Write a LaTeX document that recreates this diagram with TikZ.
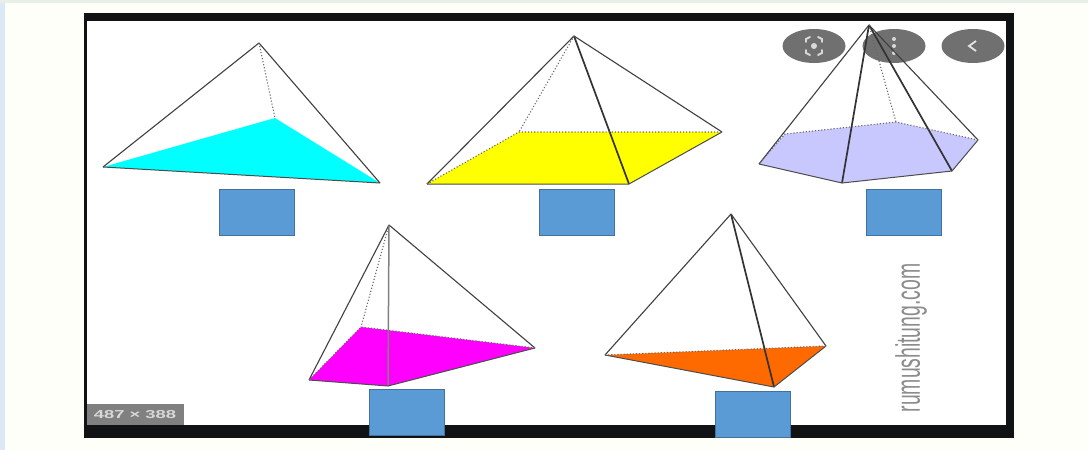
\documentclass[tikz,border=0pt]{standalone}
\usepackage{fontspec}
\usetikzlibrary{shapes.geometric}
\setmainfont{Liberation Sans}
\definecolor{pagebg}{HTML}{FDFFF8}
\definecolor{edgeblue}{HTML}{DCE8F5}
\definecolor{edgegreen}{HTML}{E6F0E6}
\definecolor{boxblue}{HTML}{5B9BD5}
\definecolor{boxline}{HTML}{41719C}
\definecolor{btngray}{HTML}{707070}
\definecolor{lilac}{HTML}{C8C8FF}
\definecolor{deeporange}{HTML}{FF6A00}
\definecolor{framedark}{HTML}{111214}
\definecolor{basecyan}{HTML}{00FFFF}
\definecolor{baseyellow}{HTML}{FFFF00}
\definecolor{basemagenta}{HTML}{FF00FF}
\begin{document}
\begin{tikzpicture}[x=1pt,y=-1pt,
    edgeline/.style={line width=1.1pt, black!75},
    frontline/.style={line width=1.7pt, black!80},
    hiddenline/.style={line width=1.1pt, black!60, dotted},
    basefill/.style={line width=1pt, black!70},
    answerbox/.style={draw=boxline, fill=boxblue, line width=0.8pt, minimum width=75pt, minimum height=46pt, inner sep=0pt, outer sep=0pt},
    imgbutton/.style={ellipse, fill=btngray, minimum width=63pt, minimum height=34pt, inner sep=0pt}]
\useasboundingbox (0,0) rectangle (1088,450);

% Page and image frame
\fill[pagebg] (0,0) rectangle (1088,450);
\fill[edgeblue] (0,0) rectangle (5,450);
\fill[edgegreen] (0,0) rectangle (1088,3);
\fill[framedark] (84,13) rectangle (1014,438);
\fill[white] (87,21) rectangle (1006,425);

% Buttons
\node[imgbutton] (btnlens) at (814,46) {};
\node[imgbutton] (btnmenu) at (894,46) {};
\node[imgbutton] (btnback) at (973,46) {};
\fill[white!85!black] (814,46) circle (3);
\fill[white!85!black] (894,39) circle (2) (894,46) circle (2) (894,53) circle (2);
\draw[white!90!black, line width=1.8pt] (976,41) -- (969,46) -- (976,51);
\draw[white!85!black, line width=1.8pt, line cap=round] (806,42) -- (806,39) -- (810,37) (818,37) -- (822,39) -- (822,42) (806,50) -- (806,53) -- (810,55) (818,55) -- (822,53) -- (822,50);

% Pyramid 1
\coordinate (P1t) at (259,43);
\coordinate (P1a) at (103,167);
\coordinate (P1b) at (380,183);
\coordinate (P1c) at (275,118);
\fill[basecyan] (P1a) -- (P1b) -- (P1c) -- cycle;
\draw[edgeline] (P1t) -- (P1a);
\draw[edgeline] (P1t) -- (P1b);
\draw[basefill] (P1a) -- (P1b);
\draw[hiddenline] (P1t) -- (P1c);

% Pyramid 2
\coordinate (P2t) at (574,36);
\coordinate (P2a) at (427,184);
\coordinate (P2b) at (629,184);
\coordinate (P2c) at (722,132);
\coordinate (P2d) at (519,132);
\fill[baseyellow] (P2a) -- (P2b) -- (P2c) -- (P2d) -- cycle;
\draw[edgeline] (P2t) -- (P2a);
\draw[frontline] (P2t) -- (P2b);
\draw[edgeline] (P2t) -- (P2c);
\draw[basefill] (P2a) -- (P2b) -- (P2c);
\draw[hiddenline] (P2t) -- (P2d);
\draw[hiddenline] (P2a) -- (P2d) -- (P2c);

% Pyramid 3
\coordinate (P3t) at (869,25);
\coordinate (P3a) at (759,164);
\coordinate (P3b) at (842,183);
\coordinate (P3c) at (952,171);
\coordinate (P3d) at (978,140);
\coordinate (P3e) at (896,122);
\coordinate (P3f) at (785,134);
\fill[lilac] (P3a) -- (P3b) -- (P3c) -- (P3d) -- (P3e) -- (P3f) -- cycle;
\draw[edgeline] (P3t) -- (P3a);
\draw[frontline] (P3t) -- (P3b);
\draw[frontline] (P3t) -- (P3c);
\draw[edgeline] (P3t) -- (P3d);
\draw[basefill] (P3a) -- (P3b) -- (P3c) -- (P3d);
\draw[hiddenline] (P3t) -- (P3e);
\draw[hiddenline] (P3d) -- (P3e) -- (P3f) -- (P3a);

% Pyramid 4
\coordinate (P4t) at (389,225);
\coordinate (P4a) at (309,380);
\coordinate (P4b) at (388,386);
\coordinate (P4c) at (535,348);
\coordinate (P4d) at (361,327);
\fill[basemagenta] (P4a) -- (P4b) -- (P4c) -- (P4d) -- cycle;
\draw[edgeline] (P4t) -- (P4a);
\draw[line width=1.5pt, black!50] (P4t) -- (P4b);
\draw[edgeline] (P4t) -- (P4c);
\draw[basefill] (P4a) -- (P4b) -- (P4c);
\draw[hiddenline] (P4t) -- (P4d);
\draw[hiddenline] (P4c) -- (P4d) -- (P4a);

% Pyramid 5
\coordinate (P5t) at (731,214);
\coordinate (P5a) at (605,355);
\coordinate (P5b) at (774,387);
\coordinate (P5c) at (826,346);
\fill[deeporange] (P5a) -- (P5b) -- (P5c) -- cycle;
\draw[edgeline] (P5t) -- (P5a);
\draw[frontline] (P5t) -- (P5b);
\draw[edgeline] (P5t) -- (P5c);
\draw[basefill] (P5a) -- (P5b) -- (P5c);
\draw[hiddenline] (P5a) -- (P5c);

% Answer boxes
\node[answerbox] (box1) at (256.5,212) {};
\node[answerbox] (box2) at (576.5,212) {};
\node[answerbox] (box3) at (903.5,212) {};
\node[answerbox] (box4) at (406.5,412) {};
\node[answerbox] (box5) at (752.5,414) {};

% Image labels
\fill[black!50] (87,404) rectangle (184,425);
\node[text=black!15, font=\bfseries\fontsize{11.5}{13}\selectfont, inner sep=0pt] (imgsize) at (135,414.5) {\scalebox{1.6}[1]{487 × 388}};
\node[text=black!45, rotate=90, inner sep=0pt, font=\fontsize{34}{36}\selectfont] (watermark) at (911,338) {\scalebox{0.57}[1]{rumushitung.com}};
\end{tikzpicture}
\end{document}
